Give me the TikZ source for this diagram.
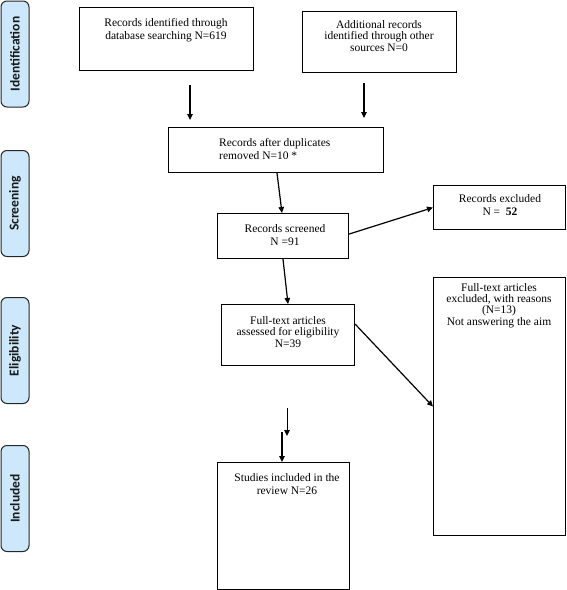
\documentclass[tikz,border=0pt]{standalone}
\usepackage{fontspec}
\setmainfont{Liberation Serif}
\newfontfamily\labfont{Carlito}
\usetikzlibrary{arrows.meta,calc}
\definecolor{stagefill}{RGB}{204,232,250}
\tikzset{
  box/.style={draw=black, line width=1.1pt, fill=white, inner sep=0pt, anchor=north west},
  txt/.style={inner sep=0pt, align=center, font=\fontsize{11.5}{12}\selectfont},
  stage/.style={draw=black!85, line width=1pt, fill=stagefill, rounded corners=6pt,
     minimum width=28pt, minimum height=106pt, anchor=north west, inner sep=0pt},
  stagetxt/.style={rotate=90, font=\labfont\bfseries\fontsize{13.5}{14}\selectfont, text=black!90},
  arr/.style={draw=black, line width=1.2pt, -{Triangle[length=6pt,width=5.5pt]}}
}
\begin{document}
\begin{tikzpicture}[x=1pt,y=-1pt]
\useasboundingbox (0,0) rectangle (567,590);
% stage labels
\node[stage] (sI) at (0.5,0.5) {};
\node[stagetxt] (sIt) at (sI.center) {Identification};
\node[stage] (sS) at (0.5,150) {};
\node[stagetxt] (sSt) at (sS.center) {Screening};
\node[stage] (sE) at (0.5,297) {};
\node[stagetxt] (sEt) at (sE.center) {Eligibility};
\node[stage] (sN) at (0.5,445) {};
\node[stagetxt] (sNt) at (sN.center) {Included};
% boxes
\node[box, minimum width=174pt, minimum height=63pt] (b1) at (79,7) {};
\node[txt, anchor=north, font=\fontsize{11.5}{13.5}\selectfont] (b1t) at (166,18) {Records identified through\\database searching N=619};
\node[box, minimum width=154pt, minimum height=61pt] (b2) at (302,11) {};
\node[txt, anchor=north, font=\fontsize{11.5}{11.5}\selectfont] (b2t) at (379,20) {Additional records\\identified through other\\sources N=0};
\node[box, minimum width=215pt, minimum height=45pt] (b3) at (168,127) {};
\node[txt, anchor=north west, align=left, font=\fontsize{11.5}{13.5}\selectfont] (b3t) at (219,138) {Records after duplicates\\removed N=10 *};
\node[box, minimum width=131pt, minimum height=45pt] (b4) at (217,213) {};
\node[txt, anchor=north, font=\fontsize{11.5}{13.5}\selectfont] (b4t) at (285,224) {Records screened\\N =91};
\node[box, minimum width=133pt, minimum height=61pt] (b5) at (221,304) {};
\node[txt, anchor=north, font=\fontsize{11.5}{11.5}\selectfont] (b5t) at (288,316) {Full-text articles\\assessed for eligibility\\N=39};
\node[box, minimum width=132pt, minimum height=44pt] (b6) at (433,185) {};
\node[txt, anchor=north, font=\fontsize{11.5}{13}\selectfont] (b6t) at (500,194) {Records excluded\\N =~~\textbf{52}};
\node[box, minimum width=132pt, minimum height=258pt] (b7) at (433,277) {};
\node[txt, anchor=north, font=\fontsize{11.5}{11.3}\selectfont] (b7t) at (499,283) {Full-text articles\\excluded, with reasons\\(N=13)\\Not answering the aim};
\node[box, minimum width=132pt, minimum height=127pt] (b8) at (217,462) {};
\node[txt, anchor=north, font=\fontsize{11.5}{13}\selectfont] (b8t) at (287,473) {Studies included in the\\review N=26};
% free arrow ends
\coordinate (a1s) at (190,85);
\coordinate (a1e) at (190,120);
\coordinate (a2s) at (364,83);
\coordinate (a2e) at (364,118);
\coordinate (a3s) at (287,408);
\coordinate (a3e) at (287,436);
\coordinate (a4s) at (282,432);
% arrows
\draw[arr] (a1s) -- (a1e);
\draw[arr] (a2s) -- (a2e);
\draw[arr] ($(b3.south west)+(109,0)$) -- ($(b4.north west)+(65,0)$);
\draw[arr] ($(b4.south west)+(66,0)$) -- ($(b5.north west)+(67,0)$);
\draw[arr] ($(b4.east)+(0,-2)$) -- (b6.west);
\draw[arr] ($(b5.east)+(0,-11)$) -- (b7.west);
\draw[arr, line width=1pt] (a3s) -- (a3e);
\draw[arr, line width=1.8pt] (a4s) -- (b8.north -| a4s);
\end{tikzpicture}
\end{document}
